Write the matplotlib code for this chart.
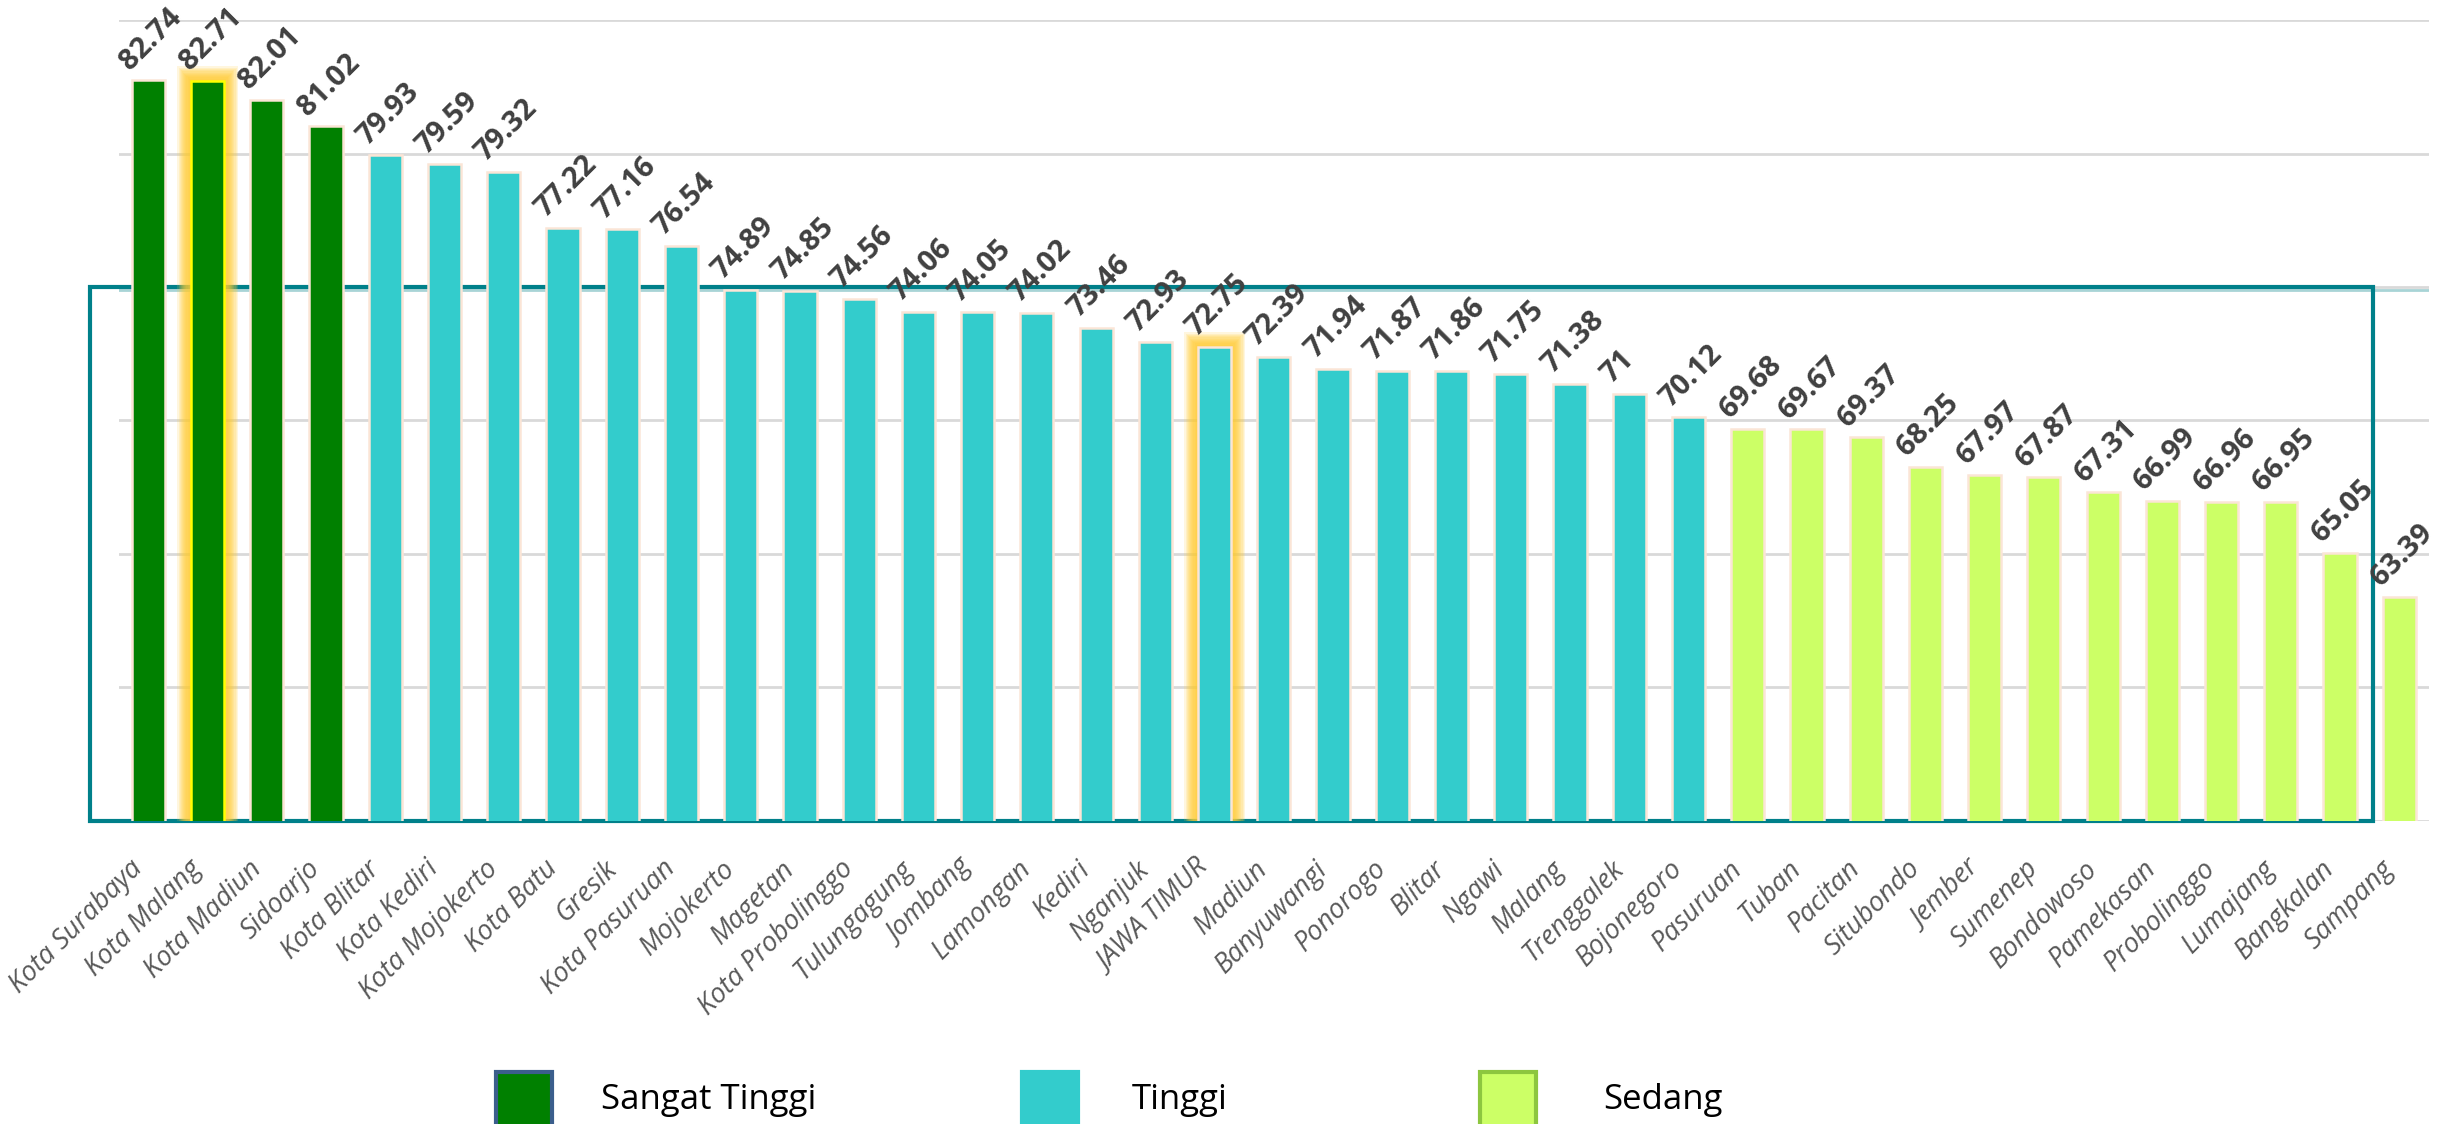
import numpy as np
import matplotlib.pyplot as plt
from matplotlib.patches import Rectangle
from matplotlib.transforms import ScaledTranslation

plt.rcParams['font.family'] = ['Open Sans', 'DejaVu Sans']

# IPM kabupaten/kota Jawa Timur
names = ["Kota Surabaya", "Kota Malang", "Kota Madiun", "Sidoarjo", "Kota Blitar",
         "Kota Kediri", "Kota Mojokerto", "Kota Batu", "Gresik", "Kota Pasuruan",
         "Mojokerto", "Magetan", "Kota Probolinggo", "Tulungagung", "Jombang",
         "Lamongan", "Kediri", "Nganjuk", "JAWA TIMUR", "Madiun", "Banyuwangi",
         "Ponorogo", "Blitar", "Ngawi", "Malang", "Trenggalek", "Bojonegoro",
         "Pasuruan", "Tuban", "Pacitan", "Situbondo", "Jember", "Sumenep",
         "Bondowoso", "Pamekasan", "Probolinggo", "Lumajang", "Bangkalan", "Sampang"]
values = [82.74, 82.71, 82.01, 81.02, 79.93, 79.59, 79.32, 77.22, 77.16, 76.54,
          74.89, 74.85, 74.56, 74.06, 74.05, 74.02, 73.46, 72.93, 72.75, 72.39,
          71.94, 71.87, 71.86, 71.75, 71.38, 71, 70.12, 69.68, 69.67, 69.37,
          68.25, 67.97, 67.87, 67.31, 66.99, 66.96, 66.95, 65.05, 63.39]
kategori = ["Sangat Tinggi"] * 4 + ["Tinggi"] * 23 + ["Sedang"] * 12
sorot = ["Kota Malang", "JAWA TIMUR"]

warna = {"Sangat Tinggi": "#008000", "Tinggi": "#33CCCC", "Sedang": "#CCFF66"}
tepi_legend = {"Sangat Tinggi": "#3B5E8C", "Tinggi": "#33CCCC", "Sedang": "#8DC63F"}

x = np.arange(len(names))
vals = np.array(values)
lebar = 0.56

fig = plt.figure(figsize=(24.48, 11.24), dpi=100)
ax = fig.add_axes([0.0485, 0.2696, 0.9437, 0.7126])
ax.set_xlim(-0.5, 38.5)
ax.set_ylim(55, 85)

# garis grid
ax.set_yticks(np.arange(55, 86, 5))
ax.yaxis.grid(True, color="#D9D9D9", lw=2, zorder=0)
ax.set_axisbelow(True)
ax.tick_params(axis="y", left=False, labelleft=False)
for s in ax.spines.values():
    s.set_visible(False)

# kotak batas 55-75
kotak = Rectangle((-0.98, 55), 37.55 + 0.98, 20, fill=False, ec="#00808A",
                  lw=3, zorder=1.5, clip_on=False)
ax.add_patch(kotak)
ax.axhline(74.87, color="#A8D4D6", lw=2, zorder=1.4)

# efek glow untuk bar yang disorot
for nm in sorot:
    i = names.index(nm)
    n = 12
    for k in range(n):
        f = (k + 1) / n
        ax.bar(x[i], vals[i] + 0.55 * f, width=lebar + 0.46 * f, color="#FFCC33",
               alpha=0.16, lw=0, zorder=1.6)

cols = [warna[k] for k in kategori]
edges = ["#FFFF00" if nm == "Kota Malang" else "#FBE5D6" for nm in names]
ax.bar(x, vals, width=lebar, color=cols, edgecolor=edges, lw=1.8, zorder=2)

# label nilai
for xi, v in zip(x, vals):
    ax.annotate(f"{v:g}", (xi, v), xytext=(-13, 7), textcoords="offset points",
                rotation=45, rotation_mode="anchor", ha="left", va="baseline",
                fontsize=21, fontweight="bold", color="#404040", annotation_clip=False)

ax.set_xticks(x)
ax.set_xticklabels(names, rotation=45, rotation_mode="anchor", ha="right", va="top",
                   fontsize=19.5, style="italic", color="#595959")
ax.tick_params(axis="x", bottom=False, pad=21)
geser = ScaledTranslation(-14 / 72, 0, fig.dpi_scale_trans)
for lbl in ax.get_xticklabels():
    lbl.set_transform(lbl.get_transform() + geser)

# legenda
leg_x = [496, 1022, 1480]
teks_x = [601, 1132, 1603]
for kat, px, tx in zip(["Sangat Tinggi", "Tinggi", "Sedang"], leg_x, teks_x):
    fig.add_artist(Rectangle((px / 2448, 1 - 1134 / 1124), 56 / 2448, 62 / 1124,
                             transform=fig.transFigure, fc=warna[kat],
                             ec=tepi_legend[kat], lw=3))
    fig.text(tx / 2448, 1 - 1100 / 1124, kat, fontsize=25, va="center", color="black")

fig.savefig("out.png", dpi=100)
